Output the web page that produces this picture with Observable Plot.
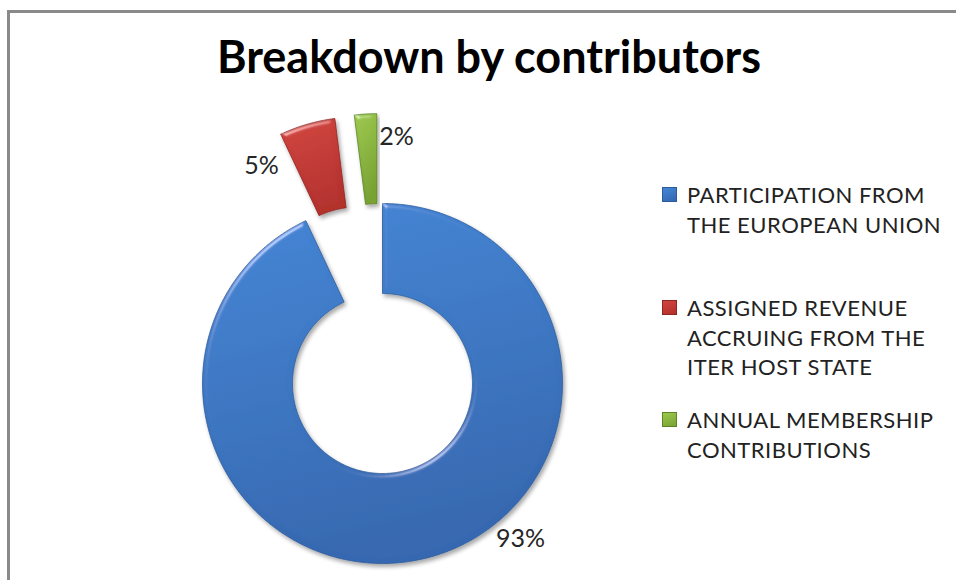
<!DOCTYPE html>
<html>
<head>
<meta charset="utf-8">
<script src="https://cdn.jsdelivr.net/npm/d3@7"></script>
<script src="https://cdn.jsdelivr.net/npm/@observablehq/plot@0.6"></script>
<style>
  body { margin: 0; background: #fff; }
  #wrap { position: relative; width: 956px; height: 580px; overflow: hidden; background: #fff; font-family: Lato, "Open Sans", sans-serif; }
  #frame { position: absolute; left: 7px; top: 10px; width: 2000px; height: 2000px; border: 3px solid #8a8a8a; box-sizing: border-box; }
  #chart { position: absolute; left: 0; top: 0; }
  #title { position: absolute; left: 0; width: 978px; top: 29px; text-align: center; font-weight: 700; font-size: 45px; line-height: 54px; color: #000; }
  .leg { position: absolute; left: 662px; font-size: 22px; line-height: 29.5px; color: #222; letter-spacing: 0.5px; }
  .leg .sw { position: absolute; left: 0; top: 7px; width: 15px; height: 15px; box-sizing: border-box; }
  .leg .tx { margin-left: 25px; white-space: nowrap; }
</style>
</head>
<body>
<div id="wrap">
  <div id="frame"></div>
  <div id="chart"></div>
  <div id="title">Breakdown by contributors</div>
  <div id="legend"></div>
</div>
<script>
// ---- data ----
const categories = [
  "PARTICIPATION FROM THE EUROPEAN UNION",
  "ASSIGNED REVENUE ACCRUING FROM THE ITER HOST STATE",
  "ANNUAL MEMBERSHIP CONTRIBUTIONS"
];
const legendLines = [
  ["PARTICIPATION FROM", "THE EUROPEAN UNION"],
  ["ASSIGNED REVENUE", "ACCRUING FROM THE", "ITER HOST STATE"],
  ["ANNUAL MEMBERSHIP", "CONTRIBUTIONS"]
];
const shares = [93, 5, 2];
const labels = ["93%", "5%", "2%"];

// ---- styling / layout ----
const colorsTop = ["#4486d6", "#d2443f", "#9cc84c"];
const colorsBottom = ["#3568b0", "#b3302c", "#78a232"];
const strokeColors = ["#2d5a98", "#8c2724", "#5c8426"];
const explode = [0, 0.5, 0.5];           // radial offset in radius units
const innerR = 0.5, outerR = 1;
const labelPos = [[0.767, -0.864], [-0.672, 1.211], [0.078, 1.369]]; // label anchor in radius units
const legendTops = [180, 293, 405];

// ---- build slice polygons from shares ----
const total = d3.sum(shares);
const polys = [];
let cum = 0;
shares.forEach((s, i) => {
  const a0 = cum / total * 2 * Math.PI;
  cum += s;
  const a1 = cum / total * 2 * Math.PI;
  const mid = (a0 + a1) / 2;
  const ox = explode[i] * Math.sin(mid), oy = explode[i] * Math.cos(mid);
  const n = Math.max(8, Math.ceil((a1 - a0) / 0.01));
  const pts = [];
  for (let k = 0; k <= n; k++) { const a = a0 + (a1 - a0) * k / n; pts.push([ox + outerR * Math.sin(a), oy + outerR * Math.cos(a)]); }
  for (let k = n; k >= 0; k--) { const a = a0 + (a1 - a0) * k / n; pts.push([ox + innerR * Math.sin(a), oy + innerR * Math.cos(a)]); }
  pts.push(pts[0]);
  pts.forEach(p => polys.push({slice: i, u: p[0], v: p[1]}));
});

const labelData = labels.map((t, i) => ({t, u: labelPos[i][0], v: labelPos[i][1]}));

// defs (gradients + filter)
function defs() {
  const ns = "http://www.w3.org/2000/svg";
  const g = document.createElementNS(ns, "defs");
  let html = "";
  colorsTop.forEach((c, i) => {
    html += `<linearGradient id="grad${i}" x1="0" y1="0" x2="0.25" y2="1">
      <stop offset="0" stop-color="${c}"/>
      <stop offset="1" stop-color="${colorsBottom[i]}"/></linearGradient>`;
  });
  html += `<filter id="bevel" x="-10%" y="-10%" width="120%" height="120%">
    <feGaussianBlur in="SourceAlpha" stdDeviation="2.5" result="blur"/>
    <feSpecularLighting in="blur" surfaceScale="3" specularConstant="0.8" specularExponent="40" lighting-color="#ffffff" result="spec">
      <feDistantLight azimuth="235" elevation="35"/>
    </feSpecularLighting>
    <feComposite in="spec" in2="SourceAlpha" operator="in" result="specIn"/>
    <feComposite in="SourceGraphic" in2="specIn" operator="arithmetic" k1="0" k2="1" k3="0.5" k4="0" result="lit"/>
    <feGaussianBlur in="SourceAlpha" stdDeviation="2" result="sblur"/>
    <feOffset in="sblur" dx="1.5" dy="2.5" result="soff"/>
    <feComponentTransfer in="soff" result="shadow"><feFuncA type="linear" slope="0.35"/></feComponentTransfer>
    <feMerge><feMergeNode in="shadow"/><feMergeNode in="lit"/></feMerge>
  </filter>`;
  g.innerHTML = html;
  return g;
}

const W = 956, H = 580, cx = 382, cy = 383, pxPerUnit = 180;
const chart = Plot.plot({
  width: W, height: H, margin: 0,
  style: {background: "transparent", overflow: "visible"},
  x: {domain: [-cx / pxPerUnit, (W - cx) / pxPerUnit], axis: null},
  y: {domain: [-(H - cy) / pxPerUnit, cy / pxPerUnit], axis: null},
  marks: [
    defs,
    ...shares.map((s, i) => Plot.line(polys.filter(d => d.slice === i), {
      x: "u", y: "v", fill: `url(#grad${i})`, stroke: strokeColors[i], strokeWidth: 0.8,
      strokeLinejoin: "round", curve: "linear"
    })),
    Plot.text(labelData, {x: "u", y: "v", text: "t", fontSize: 25, fill: "#262626", fontFamily: "Lato, 'Open Sans', sans-serif"})
  ]
});
chart.querySelectorAll("g[aria-label='line']").forEach(g => g.setAttribute("filter", "url(#bevel)"));
document.getElementById("chart").appendChild(chart);

// legend
const leg = document.getElementById("legend");
legendLines.forEach((lines, i) => {
  const d = document.createElement("div");
  d.className = "leg";
  d.style.top = legendTops[i] + "px";
  d.innerHTML = `<div class="sw" style="background:linear-gradient(160deg, ${colorsTop[i]}, ${colorsBottom[i]});border:1px solid ${strokeColors[i]}"></div>` +
    lines.map(l => `<div class="tx">${l}</div>`).join("");
  d.title = categories[i];
  leg.appendChild(d);
});
</script>
</body>
</html>
